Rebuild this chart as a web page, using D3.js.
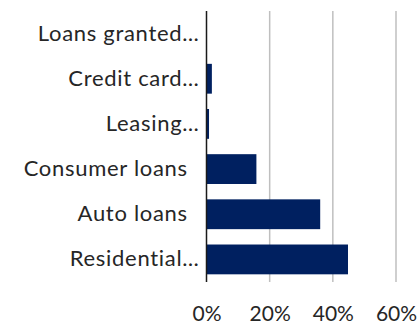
<!DOCTYPE html>
<html>
<head>
<meta charset="utf-8">
<script src="https://cdn.jsdelivr.net/npm/d3@7"></script>
<style>
  html, body { margin: 0; padding: 0; background: #fff; }
  svg { display: block; }
  text { font-family: Lato, "Open Sans", sans-serif; fill: #262626; }
</style>
</head>
<body>
<svg id="chart" width="419" height="327"></svg>
<script>
// Loan categories, top to bottom
const categories = ["Loans granted\u2026", "Credit card\u2026", "Leasing\u2026", "Consumer loans\u2002", "Auto loans\u2002", "Residential\u2026"];
// Share of each category (%)
const shares = [0, 1.7, 0.8, 15.8, 36.0, 44.8];
// Axis ticks (%)
const ticks = [0, 20, 40, 60];

const svg = d3.select("#chart");
const margin = { left: 206.5, right: 23, top: 11, bottom: 45 };
const W = 419, H = 327;

const x = d3.scaleLinear().domain([0, 60]).range([margin.left, W - margin.right]);
const y = d3.scaleBand().domain(categories).range([margin.top, H - margin.bottom]).paddingInner(0.34).paddingOuter(0.17);

// vertical gridlines
svg.append("g").selectAll("line").data(ticks.filter(t => t > 0)).join("line")
  .attr("x1", d => x(d)).attr("x2", d => x(d))
  .attr("y1", margin.top).attr("y2", H - margin.bottom)
  .attr("stroke", "#bfbfbf").attr("stroke-width", 1.5);

// bars
svg.append("g").selectAll("rect").data(categories).join("rect")
  .attr("x", x(0))
  .attr("y", d => y(d))
  .attr("height", y.bandwidth())
  .attr("width", (d, i) => x(shares[i]) - x(0))
  .attr("fill", "#002060");

// category axis
const yAxis = svg.append("g").attr("transform", `translate(${x(0)},0)`)
  .call(d3.axisLeft(y).tickSize(0).tickPadding(7));
yAxis.select(".domain").remove();
yAxis.selectAll("text")
  .style("font-size", "22px").style("letter-spacing", "0.7px")
  .style("font-family", "Lato, sans-serif").attr("fill", "#262626");
svg.append("line")
  .attr("x1", x(0)).attr("x2", x(0))
  .attr("y1", margin.top).attr("y2", H - margin.bottom)
  .attr("stroke", "#1a1a1a").attr("stroke-width", 1.5);

// value axis labels
const xAxis = svg.append("g").attr("transform", `translate(0,${H - margin.bottom})`)
  .call(d3.axisBottom(x).tickValues(ticks).tickFormat(d => d + "%").tickSize(0).tickPadding(24));
xAxis.select(".domain").remove();
xAxis.selectAll("text").style("font-size", "21px").style("font-family", "Lato, sans-serif").attr("fill", "#262626");
</script>
</body>
</html>
